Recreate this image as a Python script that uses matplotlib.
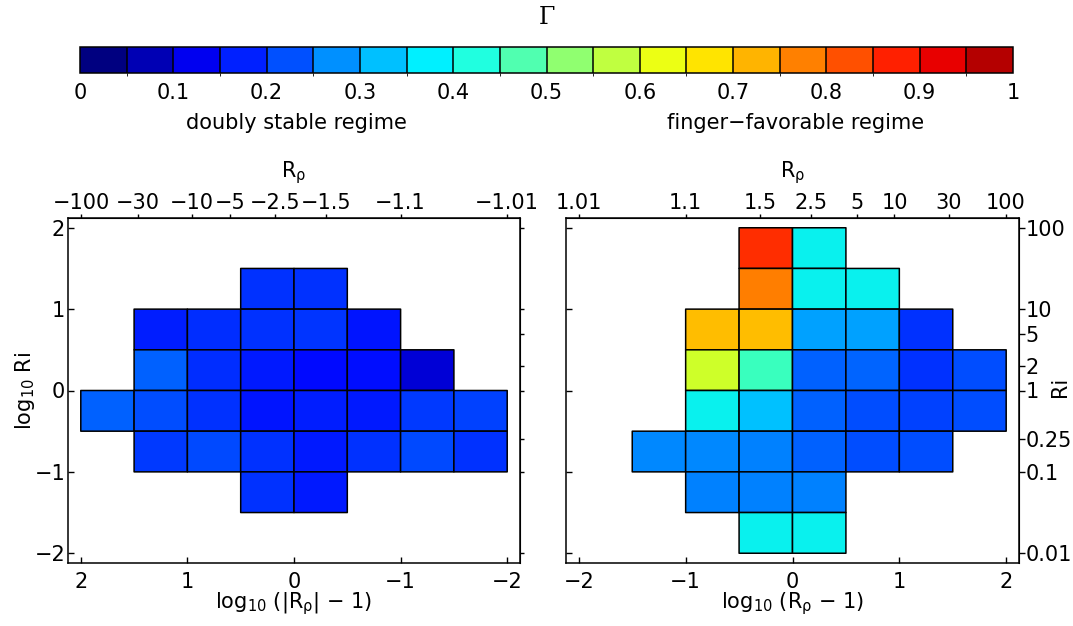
import numpy as np
import matplotlib
matplotlib.use('Agg')
import matplotlib.pyplot as plt
import matplotlib as mpl
from matplotlib.colors import BoundaryNorm, Normalize, ListedColormap

plt.rcParams['font.family'] = ['DejaVu Sans']
plt.rcParams['mathtext.default'] = 'regular'
plt.rcParams['font.size'] = 15

nan = np.nan

# ---- data -------------------------------------------------------------
# cell edges (log10 units), listed from +2 down to -2
cell_edges = [2.0, 1.5, 1.0, 0.5, 0.0, -0.5, -1.0, -1.5, -2.0]

# Gamma, left panel (doubly stable); rows: log10 Ri from 2 down to -2,
# cols: log10(|R_rho|-1) from 2 down to -2 (as displayed left -> right)
gamma_left = [
    [nan,   nan,   nan,   nan,   nan,   nan,   nan,   nan],
    [nan,   nan,   nan,   0.172, 0.175, nan,   nan,   nan],
    [nan,   0.153, 0.168, 0.172, 0.178, 0.148, nan,   nan],
    [nan,   0.219, 0.168, 0.152, 0.135, 0.140, 0.077, nan],
    [0.219, 0.203, 0.172, 0.148, 0.156, 0.152, 0.180, 0.188],
    [nan,   0.180, 0.196, 0.172, 0.152, 0.172, 0.196, 0.172],
    [nan,   nan,   nan,   0.172, 0.152, nan,   nan,   nan],
    [nan,   nan,   nan,   nan,   nan,   nan,   nan,   nan],
]

# Gamma, right panel (finger-favorable); rows: log10 Ri from 2 down to -2,
# cols: log10(R_rho-1) from -2 up to 2
gamma_right = [
    [nan, nan,   nan,   0.860, 0.360, nan,   nan,   nan],
    [nan, nan,   nan,   0.775, 0.360, 0.360, nan,   nan],
    [nan, nan,   0.710, 0.710, 0.282, 0.282, 0.172, nan],
    [nan, nan,   0.600, 0.420, 0.219, 0.225, 0.172, 0.203],
    [nan, nan,   0.360, 0.313, 0.219, 0.203, 0.188, 0.203],
    [nan, 0.258, 0.258, 0.250, 0.219, 0.203, 0.203, nan],
    [nan, nan,   0.250, 0.250, 0.250, nan,   nan,   nan],
    [nan, nan,   nan,   0.360, 0.360, nan,   nan,   nan],
]

main_ticks = [-2, -1, 0, 1, 2]
left_top_R = [-100, -30, -10, -5, -2.5, -1.5, -1.1, -1.01]
left_top_labels = ['\u2212100', '\u221230', '\u221210', '\u22125', '\u22122.5',
                   '\u22121.5', '\u22121.1', '\u22121.01']
right_top_R = [1.01, 1.1, 1.5, 2.5, 5, 10, 30, 100]
right_top_labels = ['1.01', '1.1', '1.5', '2.5', '5', '10', '30', '100']
ri_values = [100, 10, 5, 2, 1, 0.25, 0.1, 0.01]
ri_labels = ['100', '10', '5', '2', '1', '0.25', '0.1', '0.01']
cbar_ticks = [0, 0.1, 0.2, 0.3, 0.4, 0.5, 0.6, 0.7, 0.8, 0.9, 1.0]
cbar_labels = ['0', '0.1', '0.2', '0.3', '0.4', '0.5', '0.6', '0.7', '0.8', '0.9', '1']
cbar_colors = ['#000080', '#0000b4', '#0000f0', '#0020ff', '#0050ff',
               '#0090ff', '#00c0ff', '#00f0ff', '#20ffe0', '#50ffb0',
               '#90ff70', '#c0ff40', '#ecff14', '#ffe400', '#ffb400',
               '#ff8000', '#ff5000', '#ff2000', '#e80000', '#b40000']

# ---- figure -----------------------------------------------------------
W, H = 1073, 626
fig = plt.figure(figsize=(W / 100, H / 100), dpi=100)

def frac(x0, y0, x1, y1):
    return [x0 / W, 1 - y1 / H, (x1 - x0) / W, (y1 - y0) / H]

axL = fig.add_axes(frac(68, 218, 520, 563))
axR = fig.add_axes(frac(566, 218, 1019, 563))
cax = fig.add_axes(frac(80, 47, 1013, 73))

cmap = plt.get_cmap('jet')
norm = Normalize(0, 1)
edges = np.array(cell_edges)
lim = 2.12
lw_cell = 1.1

# left panel
CL = np.ma.masked_invalid(np.array(gamma_left))
axL.pcolor(edges, edges, CL, cmap=cmap, norm=norm, edgecolors='k', linewidth=lw_cell)
axL.set_xlim(lim, -lim)
axL.set_ylim(-lim, lim)

# right panel
CR = np.ma.masked_invalid(np.array(gamma_right))
axR.pcolor(edges[::-1], edges, CR, cmap=cmap, norm=norm, edgecolors='k', linewidth=lw_cell)
axR.set_xlim(-lim, lim)
axR.set_ylim(-lim, lim)

def fmt(t):
    return ('\u2212%d' % -t) if t < 0 else '%d' % t

for ax in (axL, axR):
    ax.set_xticks(main_ticks)
    ax.set_yticks(main_ticks)
    ax.set_xticklabels([fmt(t) for t in main_ticks])
    ax.tick_params(direction='in', length=4, width=1, top=False, right=False)
    ax.tick_params(axis='x', pad=6.5)
    ax.tick_params(axis='y', pad=2)
    for s in ax.spines.values():
        s.set_linewidth(1.1)

axL.set_yticklabels([fmt(t) for t in main_ticks])
axR.set_yticklabels([])

axL.set_xlabel('log$_{10}$ (|R$_{\\rho}$| \u2212 1)', labelpad=-1)
axR.set_xlabel('log$_{10}$ (R$_{\\rho}$ \u2212 1)', labelpad=-1)
axL.set_ylabel('log$_{10}$ Ri', labelpad=-2)

# top axes (R_rho)
secL = axL.secondary_xaxis('top')
secL.set_xticks(np.log10(np.abs(left_top_R) - 1), labels=left_top_labels)
secL.tick_params(direction='out', length=3, width=1, pad=0.5)
secL.set_xlabel('R$_{\\rho}$', labelpad=11)

secR = axR.secondary_xaxis('top')
secR.set_xticks(np.log10(np.array(right_top_R) - 1), labels=right_top_labels)
secR.tick_params(direction='out', length=3, width=1, pad=0.5)
secR.set_xlabel('R$_{\\rho}$', labelpad=11)

# right axes (Ri)
ri_pos = np.log10(ri_values)
secLy = axL.secondary_yaxis('right')
secLy.set_yticks(ri_pos, labels=[''] * len(ri_pos))
secLy.tick_params(direction='out', length=3, width=1)

secRy = axR.secondary_yaxis('right')
secRy.set_yticks(ri_pos, labels=ri_labels)
secRy.tick_params(direction='out', length=4, width=1, pad=0.5)
axR.text((1060 - 566) / 453, 0.51, 'Ri', rotation=90, transform=axR.transAxes,
         ha='center', va='center')

# colorbar
cmap20 = ListedColormap(cbar_colors)
bnorm = BoundaryNorm(np.linspace(0, 1, len(cbar_colors) + 1), len(cbar_colors))
cb = mpl.colorbar.ColorbarBase(cax, cmap=cmap20, norm=bnorm, orientation='horizontal',
                               drawedges=True, ticks=cbar_ticks)
cb.set_ticklabels(cbar_labels)
cb.dividers.set_linewidth(1.1)
cb.outline.set_linewidth(1.1)
cax.tick_params(length=0, pad=7)

fig.text(546.5 / W, 1 - 18 / H, '\u0393', family='DejaVu Serif', fontsize=17,
         ha='center', va='center')
fig.text(296 / W, 1 - 123 / H, 'doubly stable regime', ha='center', va='center')
fig.text(796 / W, 1 - 123 / H, 'finger\u2212favorable regime', ha='center', va='center')

fig.savefig('out.png', dpi=100)
